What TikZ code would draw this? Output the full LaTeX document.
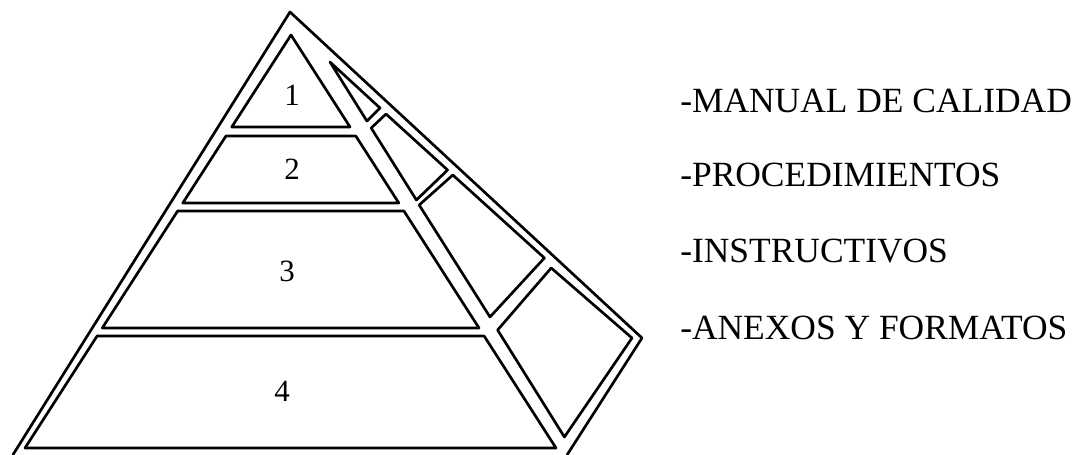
\documentclass[tikz,border=0pt]{standalone}
\usepackage{fontspec}
\setmainfont{Liberation Serif}
\begin{document}
\begin{tikzpicture}[
  edge/.style={line width=1.9pt, line join=round},
  level/.style={font=\fontsize{22}{24}\selectfont, inner sep=0pt},
  doclabel/.style={font=\fontsize{25.2}{28}\selectfont, anchor=base west, inner sep=0pt}
]
\useasboundingbox (0, 0) rectangle (26.975, 11.375);

% Outer frame of the pyramid
\draw[edge] (0.32, 0) -- (7.25, 11.075) -- (16.05, 2.925) -- (14.175, 0);

% Front face: four levels
\draw[edge] (7.275, 10.5) -- (5.794, 8.2) -- (8.751, 8.2) -- cycle;
\draw[edge] (5.649, 7.975) -- (8.895, 7.975) -- (9.970, 6.3) -- (4.570, 6.3) -- cycle;
\draw[edge] (4.441, 6.1) -- (10.098, 6.1) -- (11.975, 3.175) -- (2.557, 3.175) -- cycle;
\draw[edge] (2.428, 2.975) -- (12.103, 2.975) -- (13.9, 0.175) -- (0.625, 0.175) -- cycle;

% Side face: four panels
\draw[edge] (8.25, 9.825) -- (9.5, 8.675) -- (9.172, 8.35) -- cycle;
\draw[edge] (9.28, 8.175) -- (9.65, 8.525) -- (11.19, 7.125) -- (10.41, 6.375) -- cycle;
\draw[edge] (10.48, 6.25) -- (11.32, 7.0) -- (13.61, 4.925) -- (12.25, 3.45) -- cycle;
\draw[edge] (12.44, 3.125) -- (13.78, 4.675) -- (15.8, 2.925) -- (14.11, 0.45) -- cycle;

% Level numbers
\node[level] (n1) at (7.3, 9.0) {1};
\node[level] (n2) at (7.3, 7.15) {2};
\node[level] (n3) at (7.175, 4.6) {3};
\node[level] (n4) at (7.05, 1.6) {4};

% Document types
\node[doclabel] (manual) at (17.0, 8.55) {-MANUAL DE CALIDAD};
\node[doclabel] (proc) at (17.0, 6.7) {-PROCEDIMIENTOS};
\node[doclabel] (instr) at (17.0, 4.8) {-INSTRUCTIVOS};
\node[doclabel] (anexos) at (17.0, 2.875) {-ANEXOS Y FORMATOS};

\end{tikzpicture}
\end{document}
